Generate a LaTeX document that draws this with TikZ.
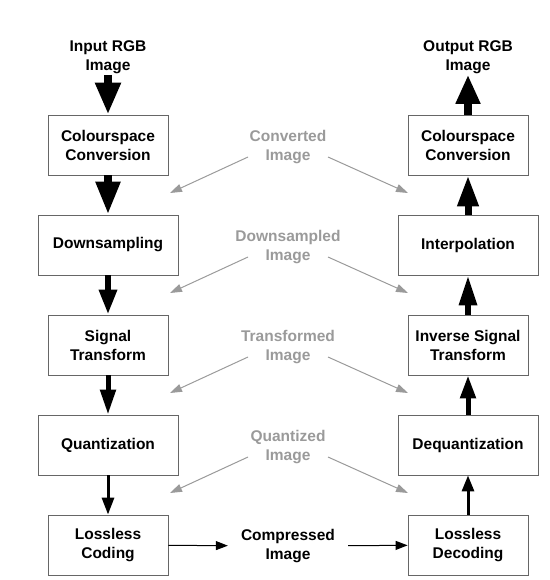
\documentclass[tikz,border=0pt]{standalone}
\usepackage{fontspec}
\setmainfont{Liberation Sans}
\usetikzlibrary{arrows.meta}
\definecolor{faint}{HTML}{9A9A9A}
\tikzset{
  stage/.style={draw=black!60, line width=0.8pt, minimum height=60pt, minimum width=120pt, align=center, inner sep=0pt},
  wide/.style={stage, minimum width=140pt},
  txt/.style={align=center, inner sep=1pt},
  ghost/.style={txt, text=faint},
  flow/.style n args={3}{line width=#1, -{Triangle[length=#2,width=#3]}},
  hint/.style={color=faint, line width=1pt, -{Triangle[length=12pt,width=8pt]}},
  link/.style={line width=1pt, -{Triangle[length=12pt,width=9pt]}}
}

\begin{document}
\begin{tikzpicture}[x=1pt,y=-1pt,font=\bfseries\fontsize{15.5}{19}\selectfont]
\useasboundingbox (0,0) rectangle (549,580);
\node[txt] (in) at (108,57) {Input RGB\\Image};
\node[stage] (l1) at (108,145) {Colourspace\\Conversion};
\node[wide] (l2) at (108,245) {Downsampling};
\node[stage] (l3) at (108,345) {Signal\\Transform};
\node[wide] (l4) at (108,445) {Quantization};
\node[stage] (l5) at (108,545) {Lossless\\Coding};
\node[txt] (out) at (468,57) {Output RGB\\Image};
\node[stage] (r1) at (468,145) {Colourspace\\Conversion};
\node[wide] (r2) at (468,245) {Interpolation};
\node[stage] (r3) at (468,345) {Inverse Signal\\Transform};
\node[wide] (r4) at (468,445) {Dequantization};
\node[stage] (r5) at (468,545) {Lossless\\Decoding};
\node[txt, inner xsep=13pt] (c) at (288,546) {Compressed\\Image};
\node[ghost] (m1) at (288,147) {Converted\\Image};
\node[ghost] (m2) at (288,247) {Downsampled\\Image};
\node[ghost] (m3) at (288,347) {Transformed\\Image};
\node[ghost] (m4) at (288,447) {Quantized\\Image};
\coordinate (e1) at (170,193);
\coordinate (e2) at (170,293);
\coordinate (e3) at (170,393);
\coordinate (e4) at (170,493);
\coordinate (f1) at (408,193);
\coordinate (f2) at (408,293);
\coordinate (f3) at (408,393);
\coordinate (f4) at (408,493);
% encoder, arrows get thinner going down
\path[flow={8pt}{32pt}{24pt}] (in) edge (l1);
\path[flow={8pt}{33pt}{23pt}] (l1) edge (l2);
\path[flow={6pt}{25pt}{17pt}] (l2) edge (l3);
\path[flow={5pt}{25pt}{15pt}] (l3) edge (l4);
\path[flow={3pt}{17pt}{12pt}] (l4) edge (l5);
% decoder
\path[flow={8pt}{29pt}{23pt}] (r1) edge (out);
\path[flow={7pt}{31pt}{20pt}] (r2) edge (r1);
\path[flow={6pt}{30pt}{17pt}] (r3) edge (r2);
\path[flow={5pt}{23pt}{15pt}] (r4) edge (r3);
\path[flow={3pt}{16pt}{12pt}] (r5) edge (r4);
\path[link] (l5) edge (c) (c) edge (r5);
\path[hint] ([shift={(-40,10)}]m1.center) edge (e1) ([shift={(40,10)}]m1.center) edge (f1);
\path[hint] ([shift={(-40,10)}]m2.center) edge (e2) ([shift={(40,10)}]m2.center) edge (f2);
\path[hint] ([shift={(-40,10)}]m3.center) edge (e3) ([shift={(40,10)}]m3.center) edge (f3);
\path[hint] ([shift={(-40,10)}]m4.center) edge (e4) ([shift={(40,10)}]m4.center) edge (f4);
\end{tikzpicture}
\end{document}
